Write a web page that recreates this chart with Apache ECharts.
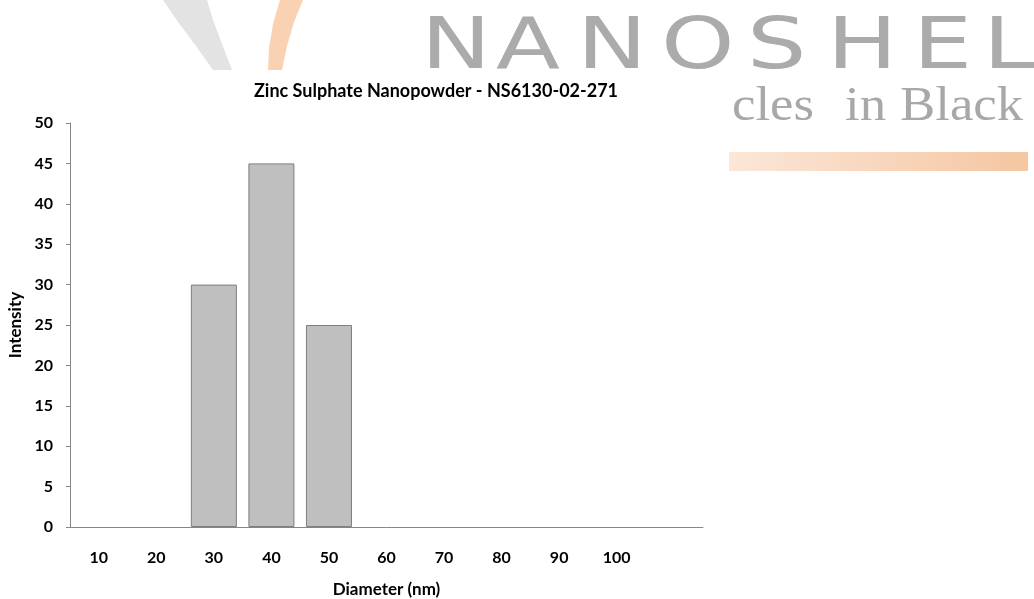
<!DOCTYPE html>
<html>
<head>
<meta charset="utf-8">
<script src="https://cdn.jsdelivr.net/npm/echarts@6/dist/echarts.min.js"></script>
<style>
  html, body { margin: 0; padding: 0; background: #fff; }
  #chart { width: 1034px; height: 599px; }
</style>
</head>
<body>
<div id="chart"></div>
<script>
// diameter bins (nm), last slot is an empty category like the original sheet
const diameters = ['10', '20', '30', '40', '50', '60', '70', '80', '90', '100', '']
const intensity = [0, 0, 30, 45, 25, 0, 0, 0, 0, 0, null]
const yTicks = { min: 0, max: 50, step: 5 }

const chart = echarts.init(document.getElementById('chart'))
const labelFont = 'Lato, "Open Sans", sans-serif'

// watermark letters of the logo behind the chart
const logoLetters = ['N', 'A', 'N', 'O', 'S', 'H', 'E', 'L']
const logoX = [421, 496, 577, 661, 747, 827, 913, 983]
const watermark = logoLetters.map((ch, i) => ({
  type: 'text',
  x: logoX[i],
  y: 13,
  scaleX: 1.3,
  z: -1,
  style: {
    text: ch,
    fill: '#ababab',
    font: '72px "DejaVu Sans", sans-serif',
    verticalAlign: 'top'
  }
}))

// tagline pieces, spaced wide like the logo artwork
const tagWords = ['cles', 'in', 'Black']
const tagX = [732, 845, 900]
const tagline = tagWords.map((w, i) => ({
  type: 'text',
  x: tagX[i],
  y: 83,
  scaleX: 1.1,
  z: -1,
  style: {
    text: w,
    fill: '#a8a8a8',
    font: '48px "Liberation Serif", serif',
    verticalAlign: 'top'
  }
}))

const option = {
  backgroundColor: '#fff',
  animation: false,
  title: {
    text: 'Zinc Sulphate Nanopowder - NS6130-02-271',
    left: 431,
    top: 77,
    textAlign: 'center',
    textStyle: {
      fontFamily: labelFont,
      fontWeight: 'bold',
      fontSize: 18,
      color: '#000'
    }
  },
  graphic: [
    // grey swoosh
    {
      type: 'polygon',
      z: -2,
      shape: {
        points: [[163, 0], [178, 22], [196, 46], [213, 70], [232, 70], [222, 44], [213, 20], [207, 0]]
      },
      style: { fill: '#e3e3e3' }
    },
    // orange swoosh
    {
      type: 'polygon',
      z: -2,
      shape: {
        points: [[280, 0], [273, 24], [269, 48], [268, 70], [282, 70], [287, 46], [294, 22], [303, 0]]
      },
      style: { fill: '#f8d2b2' }
    },
    ...watermark,
    ...tagline,
    {
      type: 'rect',
      z: -1,
      shape: { x: 729, y: 152, width: 299, height: 19 },
      style: {
        fill: new echarts.graphic.LinearGradient(0, 0, 1, 0, [
          { offset: 0, color: '#fbe7d8' },
          { offset: 1, color: '#f5c6a1' }
        ])
      }
    }
  ],
  grid: {
    left: 70,
    top: 123,
    width: 633,
    height: 404,
    outerBoundsMode: 'none'
  },
  xAxis: {
    type: 'category',
    data: diameters,
    name: 'Diameter (nm)',
    nameLocation: 'middle',
    nameGap: 54,
    nameTextStyle: {
      fontFamily: labelFont,
      fontWeight: 'bold',
      fontSize: 17,
      color: '#000'
    },
    axisLine: { lineStyle: { color: '#868686', width: 1 } },
    axisTick: { show: false },
    axisLabel: {
      margin: 23,
      fontFamily: labelFont,
      fontWeight: 'bold',
      fontSize: 16,
      color: '#000'
    }
  },
  yAxis: {
    type: 'value',
    min: yTicks.min,
    max: yTicks.max,
    interval: yTicks.step,
    name: 'Intensity',
    nameLocation: 'middle',
    nameGap: 45,
    nameTextStyle: {
      fontFamily: labelFont,
      fontWeight: 'bold',
      fontSize: 17,
      color: '#000'
    },
    axisLine: { show: true, lineStyle: { color: '#868686', width: 1 } },
    axisTick: { show: true, length: 4, lineStyle: { color: '#868686' } },
    splitLine: { show: false },
    axisLabel: {
      margin: 17,
      fontFamily: labelFont,
      fontWeight: 'bold',
      fontSize: 16,
      color: '#000'
    }
  },
  series: [
    {
      type: 'bar',
      // empty bins get no outline so nothing is drawn on the axis
      data: intensity.map(v => (v === 0 ? { value: v, itemStyle: { borderWidth: 0 } } : v)),
      barWidth: '80%',
      itemStyle: {
        color: '#bfbfbf',
        borderColor: '#7f7f7f',
        borderWidth: 1
      }
    }
  ]
}
chart.setOption(option)
</script>
</body>
</html>
